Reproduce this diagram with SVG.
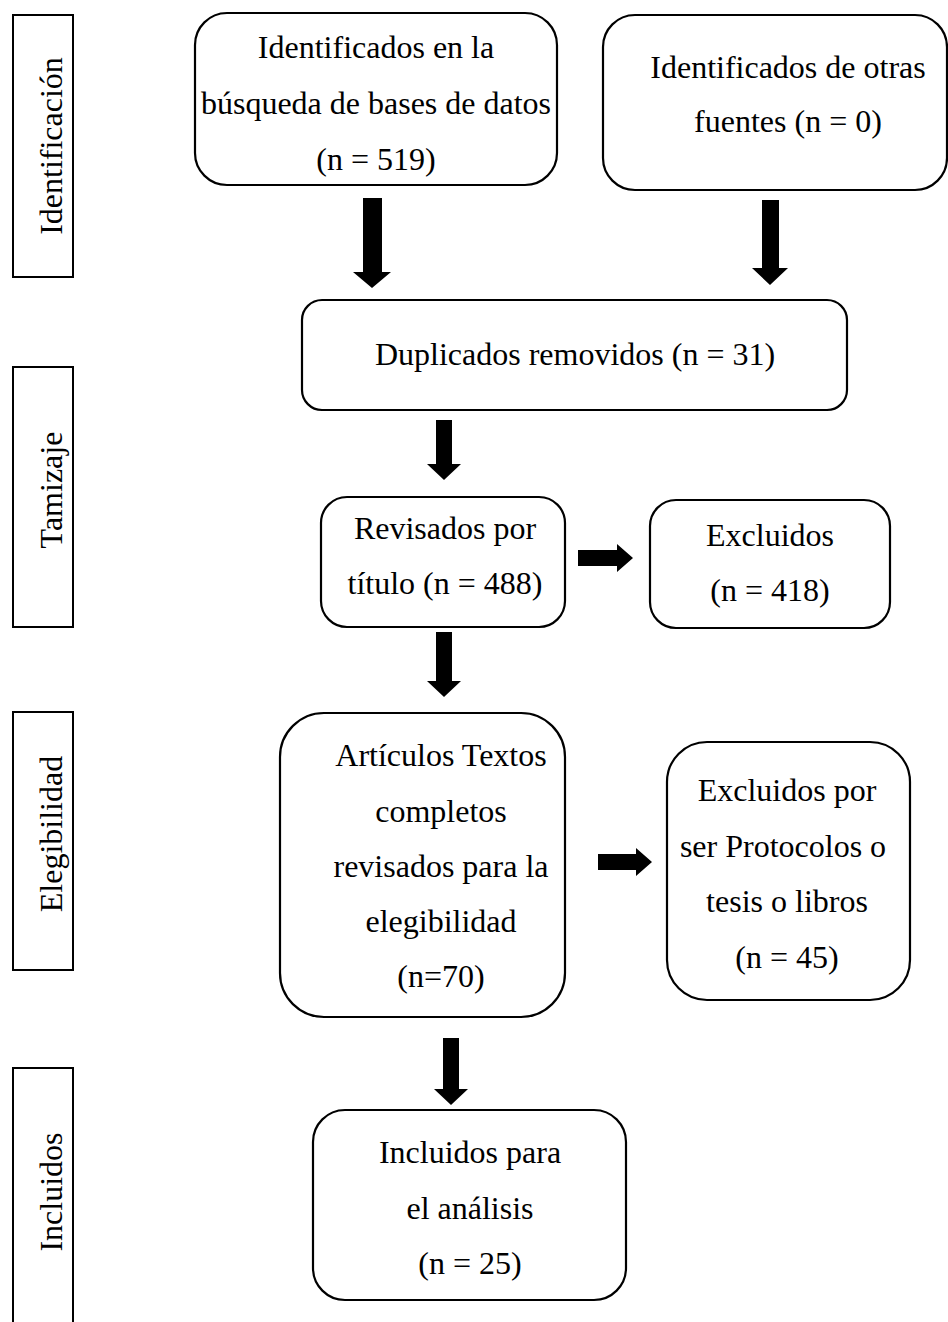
<svg xmlns="http://www.w3.org/2000/svg" width="948" height="1322" viewBox="0 0 948 1322">
<style>
.box{fill:#fff;stroke:#000;stroke-width:2.2}
.lab{fill:#fff;stroke:#000;stroke-width:2}
text{font-family:"Liberation Serif","Times New Roman",serif;font-size:32px;fill:#000;text-anchor:middle}
.arr{fill:#000;stroke:none}
</style>
<rect width="948" height="1322" fill="#fff"/>
<g id="stage-identificacion">
<rect class="lab" x="13" y="15" width="60" height="262"/>
<text transform="translate(52,146) rotate(-90)" dy="10">Identificación</text>
</g>
<g id="stage-tamizaje">
<rect class="lab" x="13" y="367" width="60" height="260"/>
<text transform="translate(52,490) rotate(-90)" dy="10">Tamizaje</text>
</g>
<g id="stage-elegibilidad">
<rect class="lab" x="13" y="712" width="60" height="258"/>
<text transform="translate(52,834) rotate(-90)" dy="10">Elegibilidad</text>
</g>
<g id="stage-incluidos">
<path class="lab" d="M13,1330 V1068 H73 V1330"/>
<text transform="translate(52,1192) rotate(-90)" dy="10">Incluidos</text>
</g>
<g id="n-bases">
<rect class="box" x="195" y="13" width="362" height="172" rx="32"/>
<text x="376" y="58">Identificados en la</text>
<text x="376" y="114">búsqueda de bases de datos</text>
<text x="376" y="170">(n = 519)</text>
</g>
<g id="n-otras">
<rect class="box" x="603" y="15" width="344" height="175" rx="32"/>
<text x="788" y="78">Identificados de otras</text>
<text x="788" y="132">fuentes (n = 0)</text>
</g>
<g id="n-duplicados">
<rect class="box" x="302" y="300" width="545" height="110" rx="20"/>
<text x="575" y="365">Duplicados removidos (n = 31)</text>
</g>
<g id="n-revisados">
<rect class="box" x="321" y="497" width="244" height="130" rx="26"/>
<text x="445" y="539">Revisados por</text>
<text x="445" y="594">título (n = 488)</text>
</g>
<g id="n-excluidos">
<rect class="box" x="650" y="500" width="240" height="128" rx="26"/>
<text x="770" y="546">Excluidos</text>
<text x="770" y="601">(n = 418)</text>
</g>
<g id="n-articulos">
<rect class="box" x="280" y="713" width="285" height="304" rx="44"/>
<text x="441" y="766">Artículos Textos</text>
<text x="441" y="822">completos</text>
<text x="441" y="877">revisados para la</text>
<text x="441" y="932">elegibilidad</text>
<text x="441" y="987">(n=70)</text>
</g>
<g id="n-excluidos-prot">
<rect class="box" x="667" y="742" width="243" height="258" rx="40"/>
<text x="787" y="801">Excluidos por</text>
<text x="783" y="857">ser Protocolos o</text>
<text x="787" y="912">tesis o libros</text>
<text x="787" y="968">(n = 45)</text>
</g>
<g id="n-incluidos">
<rect class="box" x="313" y="1110" width="313" height="190" rx="32"/>
<text x="470" y="1163">Incluidos para</text>
<text x="470" y="1219">el análisis</text>
<text x="470" y="1274">(n = 25)</text>
</g>
<g id="connectors">
<path class="arr" d="M363,198 H382 V272 H391 L372,288 L353,272 H363 Z"/>
<path class="arr" d="M762,200 H779 V268 H788 L770,285 L752,268 H762 Z"/>
<path class="arr" d="M436,420 H452 V464 H461 L444,480 L427,464 H436 Z"/>
<path class="arr" d="M436,632 H452 V681 H461 L444,697 L427,681 H436 Z"/>
<path class="arr" d="M443,1038 H459 V1089 H468 L451,1105 L434,1089 H443 Z"/>
<path class="arr" d="M578,550 H617 V544 L633,558 L617,572 V566 H578 Z"/>
<path class="arr" d="M598,854 H636 V848 L652,862 L636,876 V870 H598 Z"/>
</g>
</svg>
